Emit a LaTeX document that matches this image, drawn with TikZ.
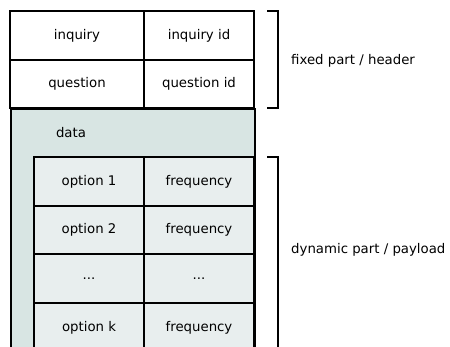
\documentclass[tikz,border=0pt]{standalone}
\usepackage{fontspec}
\setmainfont{DejaVu Sans}
\definecolor{databg}{HTML}{D8E5E3}
\definecolor{cellbg}{HTML}{E8EEEE}
\begin{document}
\begin{tikzpicture}[x=1pt,y=-1pt,
  font=\fontsize{13.3}{16}\selectfont,
  cellbox/.style={draw=black,line width=1.8pt,inner sep=0pt,fill=white},
  optcell/.style={cellbox,fill=cellbg},
  bracketline/.style={draw=black,line width=1.8pt},
  lbl/.style={anchor=west,inner sep=0pt}]
\useasboundingbox (0,0) rectangle (450,347);
\clip (0,0) rectangle (450,347);
% header
\node[cellbox,minimum width=134pt,minimum height=49pt] (inq) at (77,35.5) {inquiry};
\node[cellbox,minimum width=110pt,minimum height=49pt] (inqid) at (199,35.5) {inquiry id};
\node[cellbox,minimum width=134pt,minimum height=48pt] (q) at (77,84) {question};
\node[cellbox,minimum width=110pt,minimum height=48pt] (qid) at (199,84) {question id};
% data region
\node[cellbox,fill=databg,anchor=north west,minimum width=244pt,minimum height=270pt] (data) at (10,108) {};
\node[inner sep=0pt] (datalbl) at (71,133) {data};
% option rows
\node[optcell,minimum width=110pt,minimum height=49pt] (o1) at (89,181.5) {option 1};
\node[optcell,minimum width=110pt,minimum height=49pt] (f1) at (199,181.5) {frequency};
\node[optcell,minimum width=110pt,minimum height=48pt] (o2) at (89,230) {option 2};
\node[optcell,minimum width=110pt,minimum height=48pt] (f2) at (199,230) {frequency};
\node[optcell,minimum width=110pt,minimum height=49pt] (o3) at (89,278.5) {...};
\node[optcell,minimum width=110pt,minimum height=49pt] (f3) at (199,278.5) {...};
\node[optcell,minimum width=110pt,minimum height=49pt] (ok) at (89,327.5) {option k};
\node[optcell,minimum width=110pt,minimum height=49pt] (fk) at (199,327.5) {frequency};
% brackets
\coordinate (b1a) at (267,11);
\coordinate (b1b) at (278,11);
\coordinate (b1c) at (278,108);
\coordinate (b1d) at (267,108);
\draw[bracketline] (b1a) -- (b1b) -- (b1c) -- (b1d);
\coordinate (b2a) at (267,157);
\coordinate (b2b) at (278,157);
\coordinate (b2c) at (278,370);
\draw[bracketline] (b2a) -- (b2b) -- (b2c);
\node[lbl] (fixed) at (291,61) {fixed part / header};
\node[lbl] (dyn) at (291,250) {dynamic part / payload};
\end{tikzpicture}
\end{document}
